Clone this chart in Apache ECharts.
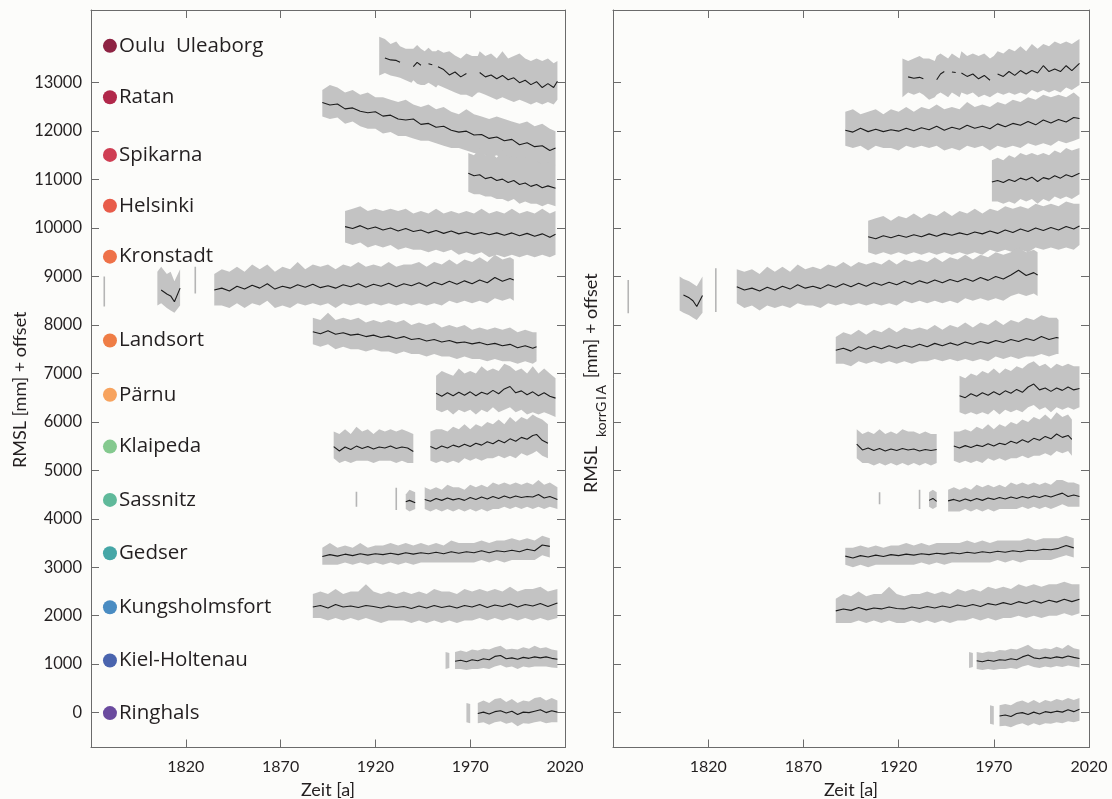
<!DOCTYPE html>
<html>
<head>
<meta charset="utf-8">
<script src="https://cdn.jsdelivr.net/npm/echarts@6/dist/echarts.min.js"></script>
<style>
html,body{margin:0;padding:0;background:#fcfcfa;}
#chart{width:1112px;height:799px;}
</style>
</head>
<body>
<div id="chart"></div>
<script>
// ---------- DATA (rows: [year, gray low, annual mean (black), gray high]; null = gap) ----------
const stationNames = ['Oulu  Uleaborg','Ratan','Spikarna','Helsinki','Kronstadt','Landsort','Pärnu','Klaipeda','Sassnitz','Gedser','Kungsholmsfort','Kiel-Holtenau','Ringhals'];
const stationColors = ['#8e2343','#b1284a','#cf3e53','#e85c4a','#ee7148','#ef7d45','#f7a35e','#84c98e','#5fb99a','#45a6a6','#4a8cc2','#4a64ae','#6a4a9e'];
const stationOffsets = [13760,12700,11510,10460,9410,7680,6560,5490,4390,3290,2175,1075,-10];
const labelYear = 1780;
const xTickValues = [1820,1870,1920,1970,2020];
const yTickValues = [0,1000,2000,3000,4000,5000,6000,7000,8000,9000,10000,11000,12000,13000];

const ouluL = [[1922,13150,null,13950],[1925,13200,13510,13900],[1928,13150,13470,13800],[1931,13120,13460,13850],[1933,13100,13420,13750],[1936,13050,null,13700],[1939,13000,null,13700],[1940,13050,13330,13700],[1942,12980,13420,13780],[1944,12950,13360,13700],[1946,12950,null,13650],[1948,13000,13390,13720],[1950,12950,13370,13650],[1952,12900,null,13650],[1953,12950,13330,13680],[1956,12900,13270,13620],[1959,12850,13160,13650],[1962,12800,13220,13560],[1965,12750,13120,13500],[1968,12750,13190,13600],[1971,12700,null,13550],[1974,12800,null,13550],[1975,12800,13210,13650],[1978,12750,13120,13550],[1981,12700,13160,13600],[1984,12650,13080,13500],[1987,12700,13150,13650],[1990,12650,13060,13500],[1993,12600,13100,13550],[1996,12650,13000,13600],[1999,12600,13050,13500],[2002,12550,12960,13450],[2005,12600,13020,13500],[2008,12550,12900,13450],[2011,12600,12980,13500],[2014,12550,12900,13400],[2016,12650,13030,13450]];
const ouluR = [[1922,12700,null,13500],[1925,12800,13120,13450],[1928,12750,13090,13500],[1931,12800,13110,13550],[1933,12750,13080,13500],[1936,12650,null,13500],[1939,12700,null,13450],[1940,12750,13060,13550],[1942,12800,13180,13600],[1944,12750,13230,13550],[1946,12700,null,13500],[1948,12800,13220,13600],[1950,12750,13210,13550],[1952,12700,null,13500],[1953,12800,13200,13650],[1956,12750,13130,13550],[1959,12800,13180,13600],[1962,12700,13080,13550],[1965,12750,13150,13600],[1968,12700,13050,13500],[1970,12750,null,13550],[1972,12800,13180,13650],[1975,12750,13130,13600],[1978,12800,13230,13700],[1981,12750,13150,13650],[1984,12800,13250,13750],[1987,12750,13180,13650],[1990,12850,13250,13800],[1993,12800,13200,13700],[1996,12850,13350,13800],[1999,12800,13230,13750],[2002,12850,13280,13850],[2005,12800,13230,13800],[2008,12900,13350,13850],[2011,12850,13250,13800],[2015,12950,13400,13900]];

const ratanL = [[1892,12300,12590,12850],[1896,12250,12540,12950],[1900,12280,12560,12900],[1904,12150,12460,12800],[1908,12200,12480,12850],[1912,12100,12410,12750],[1916,12050,12380,12800],[1920,12050,12400,12700],[1924,11950,12310,12700],[1928,11980,12330,12650],[1932,11900,12250,12600],[1936,11900,12230,12650],[1940,11850,12250,12550],[1944,11800,12140,12500],[1948,11800,12160,12550],[1952,11750,12080,12450],[1956,11700,12100,12500],[1960,11650,12020,12400],[1964,11650,11980,12350],[1968,11600,12000,12450],[1972,11550,11920,12350],[1976,11550,11930,12300],[1980,11450,11850,12250],[1984,11500,11880,12300],[1988,11400,11800,12250],[1992,11400,11830,12200],[1996,11350,11720,12150],[2000,11350,11760,12200],[2004,11300,11680,12100],[2008,11300,11700,12150],[2012,11250,11600,12050],[2015,11300,11650,12000]];
const ratanR = [[1892,11700,12020,12400],[1896,11650,11980,12450],[1900,11700,12060,12350],[1904,11600,11990,12400],[1908,11700,12040,12450],[1912,11650,11990,12350],[1916,11650,12030,12450],[1920,11600,12000,12400],[1924,11700,12060,12500],[1928,11650,12010,12400],[1932,11700,12070,12500],[1936,11650,12030,12450],[1940,11700,12100,12550],[1944,11600,12020,12450],[1948,11650,12080,12500],[1952,11600,12040,12450],[1956,11700,12120,12600],[1960,11650,12060,12500],[1964,11700,12100,12550],[1968,11600,12050,12500],[1972,11700,12150,12600],[1976,11650,12090,12550],[1980,11700,12160,12650],[1984,11650,12120,12600],[1988,11750,12200,12700],[1992,11700,12130,12650],[1996,11750,12230,12750],[2000,11700,12170,12700],[2004,11800,12240,12750],[2008,11750,12190,12700],[2012,11800,12280,12800],[2015,11850,12260,12700]];

const spikarnaL = [[1969,10750,11130,11550],[1972,10700,11080,11500],[1975,10700,11100,11650],[1978,10650,11020,11500],[1981,10650,11050,11550],[1984,10600,10980,11450],[1987,10600,11010,11600],[1990,10550,10940,11450],[1993,10600,10980,11500],[1996,10500,10900,11400],[1999,10550,10930,11450],[2002,10500,10860,11350],[2005,10500,10900,11400],[2008,10450,10830,11300],[2011,10500,10870,11350],[2015,10450,10820,11300]];
const spikarnaR = [[1969,10550,10950,11400],[1972,10550,10980,11450],[1975,10500,10940,11400],[1978,10550,11000,11500],[1981,10500,10960,11450],[1984,10600,11030,11550],[1987,10550,10990,11500],[1990,10600,11050,11550],[1993,10500,10960,11500],[1996,10600,11040,11550],[1999,10550,11010,11500],[2002,10650,11080,11600],[2005,10600,11030,11550],[2008,10650,11100,11650],[2011,10600,11060,11600],[2015,10700,11130,11650]];

const helsinkiL = [[1904,9700,10030,10350],[1908,9650,9990,10400],[1912,9700,10050,10450],[1916,9600,9980,10350],[1920,9650,10020,10400],[1924,9600,9960,10350],[1928,9650,10000,10400],[1932,9550,9940,10350],[1936,9600,9990,10400],[1940,9550,9930,10300],[1944,9550,9960,10350],[1948,9500,9900,10300],[1952,9550,9950,10400],[1956,9500,9890,10300],[1960,9550,9940,10350],[1964,9450,9880,10300],[1968,9500,9920,10350],[1972,9450,9870,10300],[1976,9500,9910,10400],[1980,9400,9860,10300],[1984,9450,9900,10350],[1988,9400,9850,10300],[1992,9450,9900,10400],[1996,9400,9840,10300],[2000,9450,9890,10350],[2004,9400,9830,10300],[2008,9450,9880,10400],[2012,9400,9810,10300],[2015,9450,9870,10350]];
const helsinkiR = [[1904,9500,9820,10150],[1908,9450,9780,10200],[1912,9500,9840,10250],[1916,9450,9800,10150],[1920,9500,9850,10250],[1924,9450,9810,10200],[1928,9500,9860,10300],[1932,9450,9820,10200],[1936,9500,9880,10300],[1940,9450,9830,10250],[1944,9500,9890,10350],[1948,9450,9850,10250],[1952,9500,9900,10350],[1956,9450,9860,10300],[1960,9500,9920,10400],[1964,9450,9880,10300],[1968,9550,9940,10400],[1972,9500,9890,10350],[1976,9550,9960,10450],[1980,9500,9910,10400],[1984,9550,9980,10450],[1988,9500,9930,10400],[1992,9600,10000,10500],[1996,9550,9950,10450],[2000,9600,10010,10500],[2004,9550,9960,10450],[2008,9600,10030,10550],[2012,9550,9980,10500],[2015,9650,10040,10500]];

const kronstadtL = [[1777,8380,null,9000],null,[1805,8400,null,9100],[1807,8450,8720,9200],[1810,8350,8640,9050],[1812,8300,8600,9100],[1814,8250,8480,8900],[1817,8400,8760,9150],null,[1825,8650,null,9200],null,[1835,8400,8720,9050],[1839,8400,8760,9150],[1843,8350,8700,9100],[1847,8450,8800,9200],[1851,8350,8740,9100],[1855,8450,8820,9250],[1859,8400,8760,9150],[1863,8500,8850,9250],[1867,8350,8740,9100],[1871,8400,8800,9200],[1875,8350,8760,9150],[1879,8450,8830,9300],[1883,8400,8780,9150],[1887,8450,8840,9250],[1891,8400,8770,9200],[1895,8450,8810,9250],[1899,8350,8760,9150],[1903,8450,8830,9250],[1907,8400,8790,9200],[1911,8450,8850,9300],[1915,8400,8780,9200],[1919,8450,8840,9250],[1923,8400,8800,9200],[1927,8450,8860,9300],[1931,8400,8790,9200],[1935,8450,8850,9250],[1939,8400,8810,9250],[1943,8450,8870,9300],[1947,8400,8800,9200],[1951,8450,8880,9300],[1955,8400,8830,9250],[1959,8500,8900,9350],[1963,8450,8840,9250],[1967,8500,8910,9350],[1971,8450,8850,9300],[1975,8500,8930,9400],[1979,8450,8870,9300],[1983,8550,8980,9450],[1987,8500,8900,9350],[1991,8550,8960,9400],[1993,8500,8930,9350]];
const kronstadtR = [[1778,8240,null,8930],null,[1805,8300,null,9000],[1807,8250,8620,8950],[1810,8200,8560,8900],[1812,8150,8500,8850],[1814,8100,8380,8800],[1817,8250,8610,9000],null,[1824,8270,null,9170],null,[1835,8450,8790,9150],[1839,8350,8720,9100],[1843,8400,8760,9150],[1847,8300,8700,9050],[1851,8400,8780,9200],[1855,8350,8720,9100],[1859,8400,8800,9200],[1863,8350,8740,9100],[1867,8450,8830,9250],[1871,8400,8760,9150],[1875,8400,8800,9200],[1879,8350,8750,9150],[1883,8450,8830,9250],[1887,8400,8780,9200],[1891,8450,8850,9300],[1895,8400,8790,9200],[1899,8450,8860,9300],[1903,8400,8800,9250],[1907,8450,8870,9300],[1911,8400,8820,9250],[1915,8450,8880,9350],[1919,8400,8830,9250],[1923,8500,8900,9350],[1927,8450,8840,9300],[1931,8500,8910,9350],[1935,8450,8860,9300],[1939,8500,8930,9400],[1943,8450,8870,9300],[1947,8500,8940,9400],[1951,8450,8890,9350],[1955,8550,8960,9450],[1959,8500,8900,9350],[1963,8550,8980,9450],[1967,8500,8920,9400],[1971,8550,9000,9500],[1975,8500,8950,9450],[1979,8600,9030,9500],[1983,8650,9130,9600],[1987,8600,9020,9500],[1991,8650,9080,9550],[1993,8600,9030,9500]];

const landsortL = [[1887,7600,7860,8150],[1891,7550,7820,8100],[1895,7600,7880,8250],[1899,7500,7810,8100],[1903,7550,7840,8150],[1907,7500,7790,8100],[1911,7500,7810,8150],[1915,7450,7760,8050],[1919,7500,7790,8100],[1923,7450,7740,8050],[1927,7450,7770,8100],[1931,7400,7720,8050],[1935,7450,7760,8100],[1939,7400,7700,8000],[1943,7400,7720,8050],[1947,7350,7670,8000],[1951,7400,7700,8050],[1955,7350,7650,7950],[1959,7350,7680,8000],[1963,7300,7630,7950],[1967,7350,7650,8000],[1971,7300,7610,7900],[1975,7300,7640,7950],[1979,7250,7590,7900],[1983,7300,7620,7950],[1987,7250,7570,7900],[1991,7250,7600,7950],[1995,7200,7530,7850],[1999,7250,7570,7900],[2003,7200,7520,7850],[2005,7250,7550,7850]];
const landsortR = [[1887,7200,7480,7750],[1891,7200,7520,7850],[1895,7150,7460,7800],[1899,7250,7550,7900],[1903,7200,7500,7800],[1907,7250,7560,7900],[1911,7200,7510,7850],[1915,7250,7570,7950],[1919,7200,7520,7850],[1923,7250,7580,7950],[1927,7200,7540,7900],[1931,7250,7600,7950],[1935,7250,7550,7900],[1939,7300,7620,8000],[1943,7250,7570,7900],[1947,7300,7630,8000],[1951,7250,7580,7950],[1955,7300,7650,8050],[1959,7250,7600,7950],[1963,7300,7660,8050],[1967,7250,7620,8000],[1971,7350,7680,8100],[1975,7300,7640,8000],[1979,7350,7700,8100],[1983,7300,7660,8050],[1987,7350,7720,8150],[1991,7350,7680,8100],[1995,7400,7760,8200],[1999,7350,7700,8150],[2003,7400,7740,8150],[2004,7400,7730,8100]];

const parnuL = [[1952,6250,6590,6950],[1955,6200,6530,7050],[1958,6250,6600,7000],[1961,6150,6540,6950],[1964,6250,6610,7100],[1967,6200,6550,7000],[1970,6250,6620,7050],[1973,6150,6540,7000],[1976,6250,6610,7150],[1979,6200,6570,7050],[1982,6300,6650,7100],[1985,6200,6580,7050],[1988,6250,6680,7200],[1991,6300,6730,7150],[1994,6200,6600,7050],[1997,6250,6640,7100],[2000,6150,6560,7000],[2003,6200,6620,7150],[2006,6150,6540,7000],[2009,6200,6600,7100],[2012,6150,6530,7000],[2015,6100,6490,6900]];
const parnuR = [[1952,6200,6540,6950],[1955,6150,6500,6900],[1958,6200,6580,7000],[1961,6150,6530,6950],[1964,6200,6600,7050],[1967,6150,6550,7000],[1970,6250,6620,7100],[1973,6150,6560,7000],[1976,6250,6640,7100],[1979,6200,6590,7050],[1982,6250,6670,7150],[1985,6200,6610,7100],[1988,6300,6720,7200],[1991,6350,6780,7250],[1994,6250,6660,7150],[1997,6300,6700,7200],[2000,6200,6630,7100],[2003,6300,6700,7200],[2006,6250,6650,7150],[2009,6300,6720,7200],[2012,6250,6660,7150],[2015,6300,6690,7150]];

const klaipedaL = [[1898,5250,5490,5800],[1901,5150,5400,5750],[1904,5200,5480,5850],[1907,5150,5430,5750],[1910,5200,5500,5900],[1913,5200,5450,5800],[1916,5200,5490,5850],[1919,5150,5440,5750],[1922,5200,5480,5850],[1925,5200,5460,5800],[1928,5200,5500,5850],[1931,5150,5450,5800],[1934,5200,5480,5850],[1937,5150,5460,5800],[1940,5150,5390,5750],null,[1949,5200,5490,5800],[1952,5150,5440,5850],[1955,5200,5500,5850],[1958,5150,5460,5800],[1961,5200,5520,5900],[1964,5150,5480,5850],[1967,5250,5540,5950],[1970,5200,5490,5850],[1973,5250,5560,5950],[1976,5200,5520,5900],[1979,5250,5590,6000],[1982,5250,5550,5950],[1985,5300,5620,6050],[1988,5250,5570,5950],[1991,5300,5650,6100],[1994,5250,5600,6000],[1997,5350,5680,6100],[2000,5300,5640,6050],[2003,5350,5720,6150],[2005,5400,5740,6100],[2008,5300,5620,6050],[2011,5250,5560,5950]];
const klaipedaR = [[1898,5250,5540,5850],[1901,5150,5420,5750],[1904,5150,5460,5800],[1907,5100,5410,5750],[1910,5150,5450,5850],[1913,5100,5400,5750],[1916,5150,5440,5800],[1919,5100,5410,5750],[1922,5150,5450,5850],[1925,5100,5420,5800],[1928,5150,5440,5800],[1931,5100,5400,5750],[1934,5150,5430,5800],[1937,5100,5410,5750],[1940,5150,5430,5750],null,[1949,5200,5500,5800],[1952,5150,5460,5800],[1955,5200,5510,5850],[1958,5150,5470,5800],[1961,5200,5520,5900],[1964,5150,5490,5850],[1967,5250,5550,5950],[1970,5200,5500,5850],[1973,5250,5560,5950],[1976,5200,5530,5900],[1979,5250,5600,6000],[1982,5250,5560,5950],[1985,5300,5630,6050],[1988,5250,5580,6000],[1991,5300,5660,6100],[1994,5300,5620,6050],[1997,5350,5700,6150],[2000,5300,5650,6050],[2003,5400,5750,6200],[2006,5350,5680,6100],[2009,5400,5720,6150],[2011,5300,5640,6050]];

const sassnitzL = [[1910,4250,null,4560],null,[1931,4180,null,4640],null,[1936,4200,4350,4500],[1938,4150,4380,4600],[1941,4200,4330,4550],null,[1946,4200,4400,4650],[1949,4150,4360,4600],[1952,4200,4420,4650],[1955,4150,4380,4600],[1958,4200,4430,4700],[1961,4150,4390,4650],[1964,4200,4420,4650],[1967,4150,4380,4600],[1970,4200,4440,4700],[1973,4150,4400,4650],[1976,4200,4450,4700],[1979,4150,4410,4650],[1982,4200,4460,4750],[1985,4200,4420,4700],[1988,4250,4470,4750],[1991,4200,4430,4700],[1994,4250,4470,4750],[1997,4200,4440,4700],[2000,4250,4460,4750],[2003,4200,4450,4700],[2006,4250,4500,4800],[2009,4200,4430,4700],[2012,4250,4460,4750],[2016,4200,4400,4650]];
const sassnitzR = [[1910,4300,null,4550],null,[1931,4200,null,4600],null,[1936,4250,4380,4550],[1938,4200,4420,4600],[1940,4250,4360,4550],null,[1946,4150,4370,4600],[1949,4150,4400,4650],[1952,4150,4360,4600],[1955,4200,4410,4650],[1958,4150,4370,4600],[1961,4200,4420,4700],[1964,4150,4380,4650],[1967,4200,4430,4700],[1970,4150,4400,4650],[1973,4200,4440,4700],[1976,4200,4410,4650],[1979,4200,4450,4750],[1982,4200,4420,4700],[1985,4250,4460,4750],[1988,4200,4430,4700],[1991,4250,4470,4750],[1994,4200,4440,4700],[1997,4250,4480,4750],[2000,4200,4450,4700],[2003,4250,4490,4800],[2006,4300,4530,4800],[2009,4250,4460,4750],[2012,4250,4490,4750],[2015,4250,4460,4700]];

const gedserL = [[1892,3050,3220,3400],[1896,3050,3260,3500],[1900,3050,3230,3400],[1904,3100,3270,3450],[1908,3050,3240,3400],[1912,3100,3280,3500],[1916,3050,3250,3400],[1920,3100,3280,3450],[1924,3050,3260,3450],[1928,3100,3290,3500],[1932,3050,3260,3450],[1936,3100,3300,3500],[1940,3050,3270,3450],[1944,3100,3300,3500],[1948,3100,3280,3450],[1952,3100,3310,3500],[1956,3100,3280,3450],[1960,3100,3320,3550],[1964,3100,3290,3500],[1968,3100,3320,3500],[1972,3100,3300,3500],[1976,3150,3340,3550],[1980,3100,3300,3500],[1984,3150,3340,3550],[1988,3100,3320,3550],[1992,3150,3350,3600],[1996,3150,3320,3550],[2000,3150,3370,3600],[2004,3150,3340,3550],[2008,3250,3460,3650],[2012,3200,3430,3600]];
const gedserR = [[1892,3050,3230,3400],[1896,3000,3190,3400],[1900,3050,3240,3450],[1904,3000,3210,3400],[1908,3050,3250,3450],[1912,3050,3220,3400],[1916,3050,3260,3450],[1920,3050,3240,3450],[1924,3050,3270,3500],[1928,3050,3250,3450],[1932,3100,3280,3500],[1936,3050,3260,3450],[1940,3100,3290,3500],[1944,3050,3270,3500],[1948,3100,3300,3500],[1952,3100,3280,3500],[1956,3100,3310,3550],[1960,3100,3290,3500],[1964,3100,3320,3550],[1968,3100,3300,3500],[1972,3150,3330,3550],[1976,3100,3310,3550],[1980,3150,3340,3550],[1984,3100,3320,3550],[1988,3150,3350,3600],[1992,3150,3340,3550],[1996,3150,3370,3600],[2000,3150,3360,3600],[2004,3200,3390,3600],[2008,3250,3450,3650],[2012,3200,3400,3600]];

const kungsL = [[1887,1950,2180,2450],[1891,1950,2210,2500],[1895,1900,2160,2450],[1899,1950,2230,2550],[1903,1900,2180,2450],[1907,1950,2200,2500],[1911,1900,2170,2500],[1915,1950,2210,2650],[1919,1900,2190,2500],[1923,1850,2160,2450],[1927,1900,2200,2500],[1931,1900,2170,2450],[1935,1900,2190,2500],[1939,1850,2150,2450],[1943,1900,2200,2500],[1947,1850,2160,2450],[1951,1900,2210,2550],[1955,1850,2170,2500],[1959,1900,2200,2500],[1963,1850,2160,2450],[1967,1900,2210,2550],[1971,1900,2180,2500],[1975,1950,2230,2550],[1979,1900,2170,2500],[1983,1950,2220,2550],[1987,1900,2190,2500],[1991,1950,2240,2600],[1995,1900,2180,2500],[1999,1950,2230,2550],[2003,1900,2200,2550],[2007,1950,2250,2600],[2011,1900,2190,2500],[2016,1950,2260,2550]];
const kungsR = [[1887,1850,2100,2350],[1891,1850,2140,2450],[1895,1850,2110,2400],[1899,1900,2170,2500],[1903,1850,2120,2400],[1907,1900,2160,2450],[1911,1850,2140,2450],[1915,1900,2180,2600],[1919,1850,2150,2450],[1923,1850,2140,2400],[1927,1900,2180,2450],[1931,1850,2150,2450],[1935,1900,2190,2500],[1939,1850,2160,2450],[1943,1900,2200,2500],[1947,1850,2170,2450],[1951,1900,2220,2550],[1955,1900,2190,2500],[1959,1950,2230,2550],[1963,1900,2190,2500],[1967,1950,2250,2600],[1971,1900,2220,2550],[1975,1950,2270,2600],[1979,1950,2230,2550],[1983,2000,2290,2650],[1987,1950,2250,2600],[1991,2000,2310,2650],[1995,1950,2260,2600],[1999,2000,2320,2650],[2003,2000,2280,2650],[2007,2050,2340,2700],[2011,2000,2290,2650],[2015,2050,2340,2650]];

const kielL = [[1957,900,null,1250],[1959,920,null,1230],null,[1962,900,1060,1250],[1965,900,1080,1280],[1968,880,1050,1250],[1971,900,1090,1300],[1974,900,1070,1280],[1977,920,1110,1320],[1980,900,1090,1300],[1983,950,1160,1350],[1986,980,1180,1380],[1989,930,1110,1300],[1992,950,1130,1320],[1995,900,1100,1300],[1998,950,1140,1350],[2001,930,1120,1320],[2004,950,1150,1380],[2007,950,1130,1330],[2010,950,1150,1350],[2013,930,1120,1300],[2016,920,1100,1280]];
const kielR = [[1957,920,null,1250],[1959,940,null,1230],null,[1961,900,1070,1250],[1964,880,1050,1230],[1967,900,1080,1260],[1970,880,1060,1250],[1973,900,1090,1290],[1976,900,1080,1280],[1979,920,1110,1320],[1982,900,1090,1300],[1985,950,1150,1350],[1988,980,1190,1400],[1991,940,1130,1320],[1994,920,1110,1300],[1997,950,1140,1330],[2000,930,1120,1310],[2003,960,1150,1360],[2006,940,1130,1320],[2009,970,1170,1400],[2012,950,1140,1330],[2015,930,1115,1300]];

const ringhalsL = [[1968,-200,null,200],[1970,-220,null,180],null,[1974,-220,-20,200],[1977,-200,10,250],[1980,-250,-30,200],[1983,-200,20,280],[1986,-180,40,300],[1989,-230,-10,220],[1992,-200,30,280],[1995,-280,-40,200],[1998,-220,10,250],[2001,-230,0,230],[2004,-200,30,300],[2007,-180,60,320],[2010,-220,0,250],[2013,-200,40,300],[2016,-200,10,250]];
const ringhalsR = [[1968,-230,null,150],[1970,-250,null,130],null,[1973,-280,-70,150],[1976,-270,-50,180],[1979,-300,-80,150],[1982,-250,-20,220],[1985,-220,0,250],[1988,-270,-40,200],[1991,-220,10,260],[1994,-260,-30,200],[1997,-220,20,260],[2000,-230,0,230],[2003,-200,30,280],[2006,-220,10,250],[2009,-180,60,300],[2012,-200,20,260],[2015,-170,70,300]];

const leftPanel = [ouluL, ratanL, spikarnaL, helsinkiL, kronstadtL, landsortL, parnuL, klaipedaL, sassnitzL, gedserL, kungsL, kielL, ringhalsL];
const rightPanel = [ouluR, ratanR, spikarnaR, helsinkiR, kronstadtR, landsortR, parnuR, klaipedaR, sassnitzR, gedserR, kungsR, kielR, ringhalsR];

// ---------- RENDERING ----------
const FONT = 'Lato, sans-serif';
const LABEL_FONT = '"Open Sans", sans-serif';
const AXIS_COLOR = '#6b6b6b';
const TEXT_COLOR = '#231f20';
const BAND_FILL = '#c3c3c3';

function splitSegments(rows) {
  const segs = [[]];
  rows.forEach(r => { if (r === null) segs.push([]); else segs[segs.length - 1].push(r); });
  return segs.filter(s => s.length);
}

function bandSeries(stations, xi, yi) {
  const segs = [];
  stations.forEach(rows => splitSegments(rows).forEach(s => segs.push(s)));
  return {
    type: 'custom', xAxisIndex: xi, yAxisIndex: yi, clip: true, silent: true, z: 1,
    data: segs.map(s => [s[0][0], s[0][1]]),
    renderItem: (params, api) => {
      const seg = segs[params.dataIndex];
      if (seg.length === 1) {
        const a = api.coord([seg[0][0], seg[0][1]]);
        const b = api.coord([seg[0][0], seg[0][3]]);
        return { type: 'line', shape: { x1: a[0], y1: a[1], x2: b[0], y2: b[1] }, style: { stroke: '#b5b5b5', lineWidth: 1.6 } };
      }
      const top = seg.map(r => api.coord([r[0], r[3]]));
      const bottom = seg.slice().reverse().map(r => api.coord([r[0], r[1]]));
      return { type: 'polygon', shape: { points: top.concat(bottom) }, style: { fill: BAND_FILL } };
    }
  };
}

function meanSeries(rows, xi, yi) {
  const data = [];
  rows.forEach(r => {
    if (r === null) { if (data.length) data.push([data[data.length - 1][0] + 0.5, null]); }
    else data.push([r[0], r[2]]);
  });
  return {
    type: 'line', xAxisIndex: xi, yAxisIndex: yi, data, showSymbol: false, symbol: 'none',
    connectNulls: false, silent: true, z: 3,
    lineStyle: { color: '#1c1c1c', width: 1.1 }
  };
}

function xAxes(gi) {
  const common = {
    gridIndex: gi, type: 'value', min: 1770, max: 2020, interval: 50,
    axisLine: { show: true, onZero: false, lineStyle: { color: AXIS_COLOR, width: 1 } },
    axisTick: { show: true, inside: true, length: 8, lineStyle: { color: AXIS_COLOR } },
    splitLine: { show: false }
  };
  return [
    Object.assign({}, common, {
      position: 'bottom',
      axisLabel: { show: true, customValues: xTickValues, formatter: v => String(v), color: TEXT_COLOR, fontSize: 16, fontFamily: FONT, margin: 11 },
      name: 'Zeit [a]', nameLocation: 'middle', nameGap: 34,
      nameTextStyle: { color: TEXT_COLOR, fontSize: 18, fontFamily: FONT }
    }),
    Object.assign({}, common, { position: 'top', axisLabel: { show: false } })
  ];
}

function yAxes(gi, left) {
  const common = {
    gridIndex: gi, type: 'value', min: -720, max: 14500,
    axisLine: { show: true, onZero: false, lineStyle: { color: AXIS_COLOR, width: 1 } },
    axisTick: { show: true, inside: true, length: 8, customValues: yTickValues, lineStyle: { color: AXIS_COLOR } },
    splitLine: { show: false }
  };
  const leftAxis = Object.assign({}, common, {
    position: 'left',
    axisLabel: left
      ? { show: true, customValues: yTickValues, formatter: v => String(v), color: TEXT_COLOR, fontSize: 16.5, fontFamily: FONT, margin: 9 }
      : { show: false }
  });
  if (left) {
    Object.assign(leftAxis, {
      name: 'RMSL [mm] + offset', nameLocation: 'middle', nameGap: 62,
      nameTextStyle: { color: TEXT_COLOR, fontSize: 18, fontFamily: FONT, padding: [0, 22, 0, 0] }
    });
  } else {
    Object.assign(leftAxis, {
      name: '{b|RMSL  }{s|korrG\u2009I\u2009A}{b| [mm] + offset}', nameLocation: 'middle', nameGap: 5,
      nameTextStyle: {
        color: TEXT_COLOR, fontFamily: FONT, padding: [0, 9, 0, 0],
        rich: {
          b: { fontSize: 18, fontFamily: FONT, color: TEXT_COLOR, lineHeight: 26, verticalAlign: 'top' },
          s: { fontSize: 14, fontFamily: FONT, color: TEXT_COLOR, lineHeight: 26, verticalAlign: 'bottom', padding: [10, 2, 0, 0] }
        }
      }
    });
  }
  const rightAxis = Object.assign({}, common, { position: 'right', axisLabel: { show: false } });
  return [leftAxis, rightAxis];
}

const series = [];
series.push(bandSeries(leftPanel, 0, 0));
series.push(bandSeries(rightPanel, 2, 2));
leftPanel.forEach(rows => series.push(meanSeries(rows, 0, 0)));
rightPanel.forEach(rows => series.push(meanSeries(rows, 2, 2)));
series.push({
  type: 'scatter', xAxisIndex: 0, yAxisIndex: 0, symbolSize: 14, z: 5, silent: true,
  data: stationNames.map((n, i) => ({ name: n, value: [labelYear, stationOffsets[i]], itemStyle: { color: stationColors[i], opacity: 1 } })),
  label: { show: true, position: 'right', distance: 2, formatter: p => p.name, color: TEXT_COLOR, fontSize: 20.5, fontFamily: LABEL_FONT }
});

const option = {
  backgroundColor: '#fcfcfa',
  animation: false,
  grid: [
    { left: 91, right: 547, top: 10, bottom: 51.5, outerBoundsMode: 'none', containLabel: false },
    { left: 613, right: 23, top: 10, bottom: 51.5, outerBoundsMode: 'none', containLabel: false }
  ],
  xAxis: xAxes(0).concat(xAxes(1)),
  yAxis: yAxes(0, true).concat(yAxes(1, false)),
  series
};

const chart = echarts.init(document.getElementById('chart'), null, { renderer: 'canvas' });
chart.setOption(option);
</script>
</body>
</html>
